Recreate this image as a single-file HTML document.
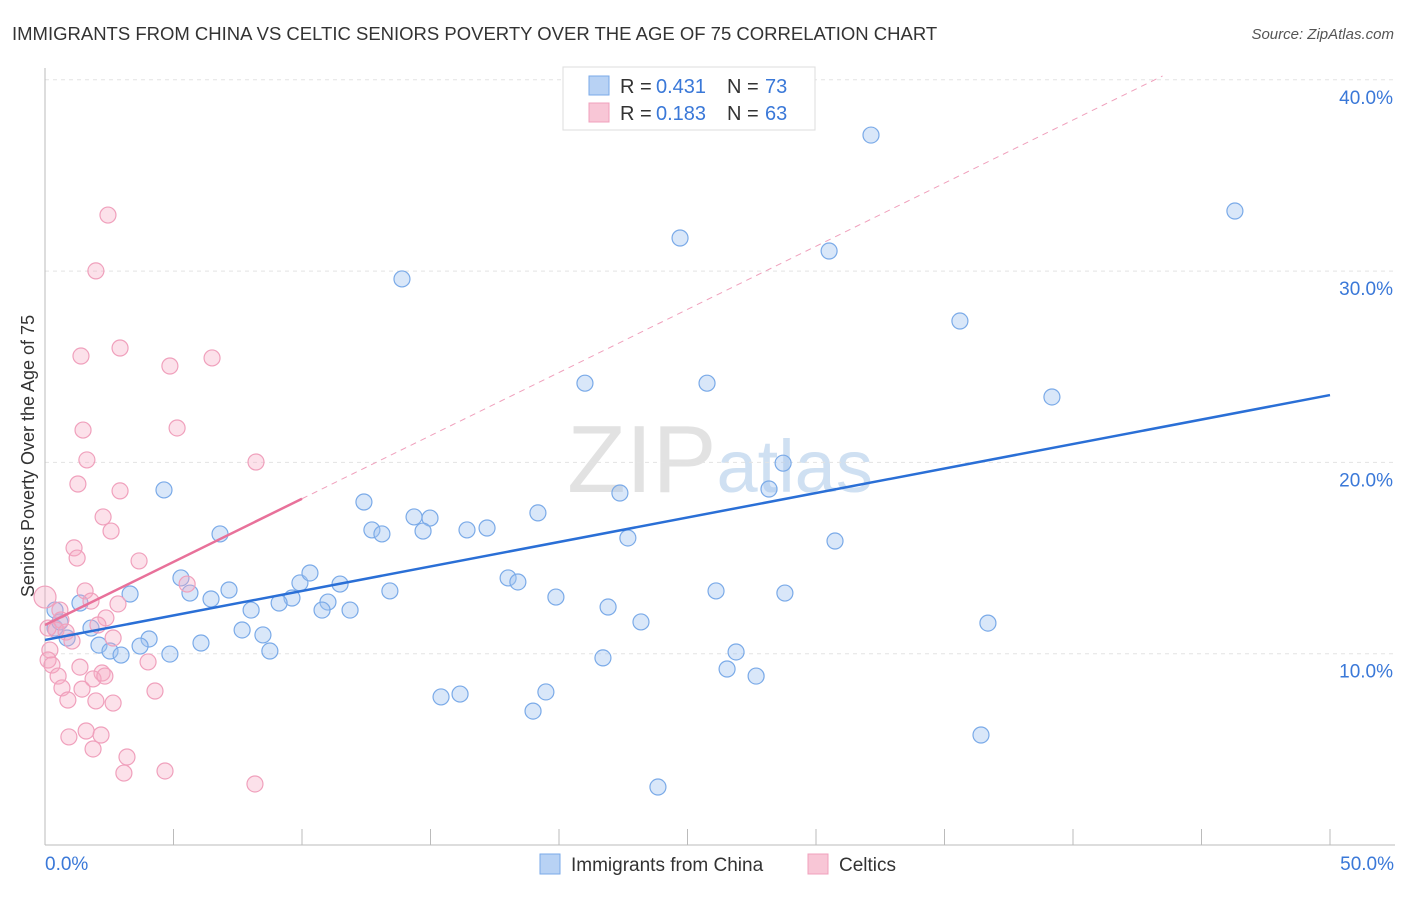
<!DOCTYPE html>
<html><head><meta charset="utf-8">
<style>
body{margin:0;background:#fff;font-family:"Liberation Sans",sans-serif;}
svg text{font-family:"Liberation Sans",sans-serif;}
</style></head>
<body>
<svg id="chart" width="1406" height="892" xmlns="http://www.w3.org/2000/svg">
<text x="12" y="40" font-size="18.5" fill="#333">IMMIGRANTS FROM CHINA VS CELTIC SENIORS POVERTY OVER THE AGE OF 75 CORRELATION CHART</text>
<text x="1394" y="39" font-size="15" fill="#555" font-style="italic" text-anchor="end">Source: ZipAtlas.com</text>
<text x="720" y="492" font-size="96" fill="#e2e2e2" text-anchor="middle" font-family="Liberation Serif">ZIP<tspan font-family="Liberation Sans" font-size="74" fill="#cfe0f2">atlas</tspan></text>
<text transform="translate(34,456) rotate(-90)" font-size="18" fill="#333" text-anchor="middle">Seniors Poverty Over the Age of 75</text>
<g id="grid"></g><g id="marks"></g>
<g>
<rect x="563" y="67" width="252" height="63" fill="#fff" stroke="#ddd"/>
<rect x="589" y="76" width="20" height="19" fill="#b8d2f4" stroke="#7aaae8"/>
<rect x="589" y="103" width="20" height="19" fill="#f8c6d6" stroke="#f0a0bc"/>
<g font-size="20">
<text x="620" y="93" fill="#333">R =</text><text x="656" y="93" fill="#3a78d8">0.431</text>
<text x="727" y="93" fill="#333">N =</text><text x="765" y="93" fill="#3a78d8">73</text></g>
<g font-size="20">
<text x="620" y="120" fill="#333">R =</text><text x="656" y="120" fill="#3a78d8">0.183</text>
<text x="727" y="120" fill="#333">N =</text><text x="765" y="120" fill="#3a78d8">63</text></g>
</g>
<g>
<rect x="540" y="854" width="20" height="20" fill="#b8d2f4" stroke="#7aaae8"/>
<text x="571" y="871" font-size="19" fill="#333">Immigrants from China</text>
<rect x="808" y="854" width="20" height="20" fill="#f8c6d6" stroke="#f0a0bc"/>
<text x="839" y="871" font-size="19" fill="#333">Celtics</text>
</g>
</svg>
<script>
const chinaX=[32.14,46.30,24.71,30.51,13.89,35.60,21.01,25.76,39.18,28.72,4.63,28.17,22.37,12.41,19.18,14.36,14.98,12.72,16.42,17.20,13.11,14.71,6.81,22.68,30.74,5.29,18.02,18.40,9.92,10.31,11.48,13.42,3.31,5.64,7.16,6.46,19.88,26.11,28.79,9.61,9.11,11.01,8.02,10.78,11.87,21.91,1.36,23.19,36.69,1.79,0.39,7.67,8.48,4.05,0.86,2.10,3.70,2.53,2.96,4.86,6.07,8.75,26.89,21.71,26.54,27.67,19.49,15.41,16.15,18.99,36.42,23.85,0.39,0.58];
const chinaY=[37.11,33.14,31.73,31.05,29.59,27.39,24.14,24.14,23.42,19.96,18.56,18.61,18.40,17.93,17.36,17.15,17.09,16.47,16.47,16.57,16.26,16.41,16.26,16.05,15.89,13.96,13.96,13.75,13.70,14.22,13.64,13.28,13.12,13.17,13.33,12.86,12.96,13.28,13.17,12.91,12.65,12.70,12.28,12.28,12.28,12.44,12.65,11.66,11.60,11.34,11.34,11.24,10.98,10.77,10.82,10.45,10.40,10.14,9.93,9.98,10.56,10.14,10.09,9.78,9.20,8.83,8.00,7.74,7.89,7.00,5.75,3.03,12.28,11.66];
const celticX=[2.45,1.98,2.92,1.40,6.50,4.86,5.14,1.48,1.63,8.21,1.28,2.92,2.26,2.57,1.13,1.25,3.66,5.53,1.56,1.79,2.84,0.58,0,0.62,2.37,2.06,0.43,0.82,0.12,2.65,1.05,0.19,0.12,4.01,0.27,1.36,2.22,1.87,0.51,2.33,1.44,0.66,4.28,0.89,1.98,2.65,1.60,2.18,0.93,1.87,3.19,3.07,4.67,8.17];
const celticY=[32.93,30.01,25.98,25.56,25.46,25.04,21.80,21.69,20.13,20.02,18.87,18.51,17.15,16.41,15.53,15.00,14.85,13.64,13.28,12.75,12.60,12.28,12.96,11.76,11.87,11.50,11.24,11.13,11.34,10.82,10.66,10.19,9.67,9.57,9.41,9.30,8.99,8.68,8.83,8.83,8.15,8.21,8.05,7.58,7.53,7.42,5.96,5.75,5.65,5.02,4.60,3.76,3.87,3.19];
const chinaTrend=[10.72,23.52];
const celticTrend=[11.5,18.1];
const yTicks=[10,20,30,40];
const yTickLabels=["10.0%","20.0%","30.0%","40.0%"];
const xTicks=[0,5,10,15,20,25,30,35,40,45,50];

const NS="http://www.w3.org/2000/svg";
const X=v=>45+v*25.7;
const Y=v=>845-v*19.13;
function mk(tag,attrs,parent){const e=document.createElementNS(NS,tag);for(const k in attrs)e.setAttribute(k,attrs[k]);parent.appendChild(e);return e;}
const grid=document.getElementById('grid'),marks=document.getElementById('marks');
yTicks.forEach((t,i)=>{
 const l=mk('line',{x1:45,x2:1395,y1:Y(t),y2:Y(t),stroke:'#e3e3e3','stroke-dasharray':'4,4'},grid);
 
 
 const tx=mk('text',{x:1393,y:Y(t)+24,'font-size':19,fill:'#3a78d8','text-anchor':'end'},grid);
 tx.textContent=yTickLabels[i];
 
 
});
const ax=mk('line',{x1:45,x2:1395,y1:845,y2:845,stroke:'#bbb'},grid);


const ay=mk('line',{x1:45,x2:45,y1:68,y2:845,stroke:'#bbb'},grid);


xTicks.forEach(t=>{
 const l=mk('line',{x1:X(t),x2:X(t),y1:829,y2:845,stroke:'#bbb'},grid);
 
 
});
const xl0=mk('text',{x:45,y:870,'font-size':19,fill:'#3a78d8'},grid);xl0.textContent=xTicks[0].toFixed(1)+'%';


const xl1=mk('text',{x:1394,y:870,'font-size':19,fill:'#3a78d8','text-anchor':'end'},grid);xl1.textContent=xTicks[xTicks.length-1].toFixed(1)+'%';



chinaX.forEach((v,i)=>{
 const c=mk('circle',{cx:X(v),cy:Y(chinaY[i]),r:8,fill:'rgba(160,196,240,0.4)',stroke:'#7aaae8','stroke-width':1.2},marks);
 
 
});
celticX.forEach((v,i)=>{
 const c=mk('circle',{cx:X(v),cy:Y(celticY[i]),r:v===0?11:8,fill:'rgba(245,170,195,0.35)',stroke:'#f0a0bc','stroke-width':1.2},marks);
 
 
});
const slope=(celticTrend[1]-celticTrend[0])/10;
const xEnd=(40.2-celticTrend[0])/slope;
const d=mk('line',{x1:X(10),y1:Y(celticTrend[1]),x2:X(xEnd),y2:Y(40.2),stroke:'#f0a0bc','stroke-width':1,'stroke-dasharray':'6,5'},marks);


const pt=mk('line',{x1:X(0),y1:Y(celticTrend[0]),x2:X(10),y2:Y(celticTrend[1]),stroke:'#e8719a','stroke-width':2.5},marks);


const bt=mk('line',{x1:X(0),y1:Y(chinaTrend[0]),x2:X(50),y2:Y(chinaTrend[1]),stroke:'#2a6fd6','stroke-width':2.5},marks);


</script>
</body></html>
